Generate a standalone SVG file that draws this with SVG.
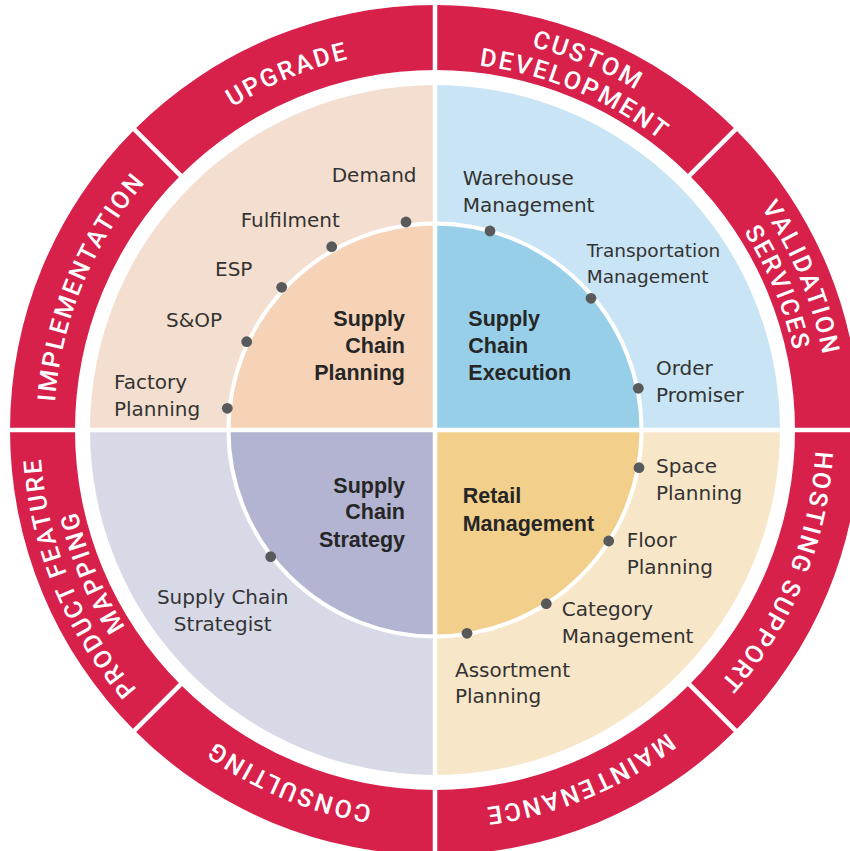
<svg xmlns="http://www.w3.org/2000/svg" width="850" height="851" viewBox="0 0 850 851">
<defs>
<style>
.ring{fill:#D7204A}
.rt{font-family:Roboto,"Liberation Sans",sans-serif;font-weight:500;font-size:25px;fill:#fff;letter-spacing:2.2px}
.lbl{font-family:"DejaVu Sans",sans-serif;font-size:20px;fill:#333}
.sm{font-size:18.5px}
.hd{font-family:"Liberation Sans",Arial,sans-serif;font-weight:bold;font-size:21.5px;fill:#262626}
.dot{fill:#58595B}
.inner{stroke:#fff;stroke-width:4}
.div{stroke:#fff;stroke-width:4.5}
</style>
<path id="p-upgrade" d="M165.59,160.59 A381,381 0 0 1 435,49"/>
<path id="p-custom" d="M435,35 A395,395 0 0 1 714.31,150.69"/>
<path id="p-development" d="M435,63 A367,367 0 0 1 694.51,170.49"/>
<path id="p-validation" d="M714.31,150.69 A395,395 0 0 1 830,430"/>
<path id="p-services" d="M694.51,170.49 A367,367 0 0 1 802,430"/>
<path id="p-hosting" d="M816,430 A381,381 0 0 1 704.41,699.41"/>
<path id="p-maint" d="M704.41,699.41 A381,381 0 0 1 435,811"/>
<path id="p-consult" d="M435,811 A381,381 0 0 1 165.59,699.41"/>
<path id="p-product" d="M155.69,709.31 A395,395 0 0 1 40,430"/>
<path id="p-mapping" d="M175.49,689.51 A367,367 0 0 1 68,430"/>
<path id="p-impl" d="M54,430 A381,381 0 0 1 165.59,160.59"/>
</defs>
<rect width="850" height="851" fill="#fff"/>

<g id="seg-upgrade">
<path class="ring" d="M134.48,129.48 A425,425 0 0 1 435,5 L435,70 A360,360 0 0 0 180.44,175.44 Z"/>
<text class="rt"><textPath href="#p-upgrade" startOffset="50%" text-anchor="middle">UPGRADE</textPath></text>
</g>
<g id="seg-custom-development">
<path class="ring" d="M435,5 A425,425 0 0 1 735.52,129.48 L689.56,175.44 A360,360 0 0 0 435,70 Z"/>
<text class="rt"><textPath href="#p-custom" startOffset="50%" text-anchor="middle">CUSTOM</textPath></text>
<text class="rt"><textPath href="#p-development" startOffset="50%" text-anchor="middle">DEVELOPMENT</textPath></text>
</g>
<g id="seg-validation-services">
<path class="ring" d="M735.52,129.48 A425,425 0 0 1 860,430 L795,430 A360,360 0 0 0 689.56,175.44 Z"/>
<text class="rt"><textPath href="#p-validation" startOffset="50%" text-anchor="middle">VALIDATION</textPath></text>
<text class="rt"><textPath href="#p-services" startOffset="50%" text-anchor="middle">SERVICES</textPath></text>
</g>
<g id="seg-hosting-support">
<path class="ring" d="M860,430 A425,425 0 0 1 735.52,730.52 L689.56,684.56 A360,360 0 0 0 795,430 Z"/>
<text class="rt"><textPath href="#p-hosting" startOffset="50%" text-anchor="middle">HOSTING SUPPORT</textPath></text>
</g>
<g id="seg-maintenance">
<path class="ring" d="M735.52,730.52 A425,425 0 0 1 435,855 L435,790 A360,360 0 0 0 689.56,684.56 Z"/>
<text class="rt"><textPath href="#p-maint" startOffset="50%" text-anchor="middle">MAINTENANCE</textPath></text>
</g>
<g id="seg-consulting">
<path class="ring" d="M435,855 A425,425 0 0 1 134.48,730.52 L180.44,684.56 A360,360 0 0 0 435,790 Z"/>
<text class="rt"><textPath href="#p-consult" startOffset="50%" text-anchor="middle">CONSULTING</textPath></text>
</g>
<g id="seg-product-feature-mapping">
<path class="ring" d="M134.48,730.52 A425,425 0 0 1 10,430 L75,430 A360,360 0 0 0 180.44,684.56 Z"/>
<text class="rt"><textPath href="#p-product" startOffset="50%" text-anchor="middle">PRODUCT FEATURE</textPath></text>
<text class="rt"><textPath href="#p-mapping" startOffset="50%" text-anchor="middle">MAPPING</textPath></text>
</g>
<g id="seg-implementation">
<path class="ring" d="M10,430 A425,425 0 0 1 134.48,129.48 L180.44,175.44 A360,360 0 0 0 75,430 Z"/>
<text class="rt"><textPath href="#p-impl" startOffset="50%" text-anchor="middle">IMPLEMENTATION</textPath></text>
</g>

<g id="q-planning">
<path fill="#F3DECF" d="M435,430 L90,430 A345,345 0 0 1 435,85 Z"/>
<path class="inner" fill="#F6D3B7" d="M435,430 L228.5,430 A206.5,206.5 0 0 1 435,223.5 Z"/>
</g>
<g id="q-execution">
<path fill="#C9E4F4" d="M435,430 L435,85 A345,345 0 0 1 780,430 Z"/>
<path class="inner" fill="#97CFE8" d="M435,430 L435,223.5 A206.5,206.5 0 0 1 641.5,430 Z"/>
</g>
<g id="q-retail">
<path fill="#F8E6C8" d="M435,430 L780,430 A345,345 0 0 1 435,775 Z"/>
<path class="inner" fill="#F2D08C" d="M435,430 L641.5,430 A206.5,206.5 0 0 1 435,636.5 Z"/>
</g>
<g id="q-strategy">
<path fill="#D8D9E7" d="M435,430 L435,775 A345,345 0 0 1 90,430 Z"/>
<path class="inner" fill="#B3B4D1" d="M435,430 L435,636.5 A206.5,206.5 0 0 1 228.5,430 Z"/>
</g>

<g id="dividers">
<line class="div" x1="435" y1="0" x2="435" y2="851"/>
<line class="div" x1="0" y1="430" x2="850" y2="430"/>
<line class="div" x1="185.90" y1="180.90" x2="123.87" y2="118.87"/>
<line class="div" x1="684.10" y1="180.90" x2="746.13" y2="118.87"/>
<line class="div" x1="684.10" y1="679.10" x2="746.13" y2="741.13"/>
<line class="div" x1="185.90" y1="679.10" x2="123.87" y2="741.13"/>
</g>

<g id="planning-labels">
<text class="hd" text-anchor="end"><tspan x="405" y="326">Supply</tspan><tspan x="405" y="352.7">Chain</tspan><tspan x="405" y="380">Planning</tspan></text>
<g id="n-demand"><circle class="dot" cx="406" cy="222" r="5.4"/><text class="lbl" x="331.7" y="181.5">Demand</text></g>
<g id="n-fulfilment"><circle class="dot" cx="331.7" cy="246.7" r="5.4"/><text class="lbl" x="240.7" y="226.7">Fulfilment</text></g>
<g id="n-esp"><circle class="dot" cx="281.7" cy="287.3" r="5.4"/><text class="lbl" x="215" y="276">ESP</text></g>
<g id="n-sop"><circle class="dot" cx="246.7" cy="341.7" r="5.4"/><text class="lbl" x="166" y="326.7">S&amp;OP</text></g>
<g id="n-factory"><circle class="dot" cx="227.3" cy="408.3" r="5.4"/><text class="lbl"><tspan x="114" y="389.3">Factory</tspan><tspan x="114" y="416">Planning</tspan></text></g>
</g>

<g id="execution-labels">
<text class="hd"><tspan x="468.3" y="326">Supply</tspan><tspan x="468.3" y="352.7">Chain</tspan><tspan x="468.3" y="380">Execution</tspan></text>
<g id="n-warehouse"><circle class="dot" cx="490" cy="231" r="5.4"/><text class="lbl"><tspan x="462.7" y="185">Warehouse</tspan><tspan x="462.7" y="211.7">Management</tspan></text></g>
<g id="n-transport"><circle class="dot" cx="591" cy="298.3" r="5.4"/><text class="lbl sm"><tspan x="586.7" y="256.7">Transportation</tspan><tspan x="586.7" y="283.3">Management</tspan></text></g>
<g id="n-order"><circle class="dot" cx="638.3" cy="388.3" r="5.4"/><text class="lbl"><tspan x="656" y="375">Order</tspan><tspan x="656" y="401.7">Promiser</tspan></text></g>
</g>

<g id="strategy-labels">
<text class="hd" text-anchor="end"><tspan x="405" y="492.7">Supply</tspan><tspan x="405" y="519.3">Chain</tspan><tspan x="405" y="546.7">Strategy</tspan></text>
<g id="n-strategist"><circle class="dot" cx="270.7" cy="556.7" r="5.4"/><text class="lbl" text-anchor="middle"><tspan x="222.7" y="604">Supply Chain</tspan><tspan x="222.7" y="630.7">Strategist</tspan></text></g>
</g>

<g id="retail-labels">
<text class="hd"><tspan x="462.7" y="503.3">Retail</tspan><tspan x="462.7" y="530.7">Management</tspan></text>
<g id="n-space"><circle class="dot" cx="639" cy="467.7" r="5.4"/><text class="lbl"><tspan x="656" y="473.3">Space</tspan><tspan x="656" y="500">Planning</tspan></text></g>
<g id="n-floor"><circle class="dot" cx="608.7" cy="541" r="5.4"/><text class="lbl"><tspan x="626.7" y="547.3">Floor</tspan><tspan x="626.7" y="574">Planning</tspan></text></g>
<g id="n-category"><circle class="dot" cx="546.3" cy="603.7" r="5.4"/><text class="lbl"><tspan x="561.7" y="616">Category</tspan><tspan x="561.7" y="642.7">Management</tspan></text></g>
<g id="n-assortment"><circle class="dot" cx="467" cy="633.3" r="5.4"/><text class="lbl"><tspan x="455" y="676.7">Assortment</tspan><tspan x="455" y="703.3">Planning</tspan></text></g>
</g>
</svg>
